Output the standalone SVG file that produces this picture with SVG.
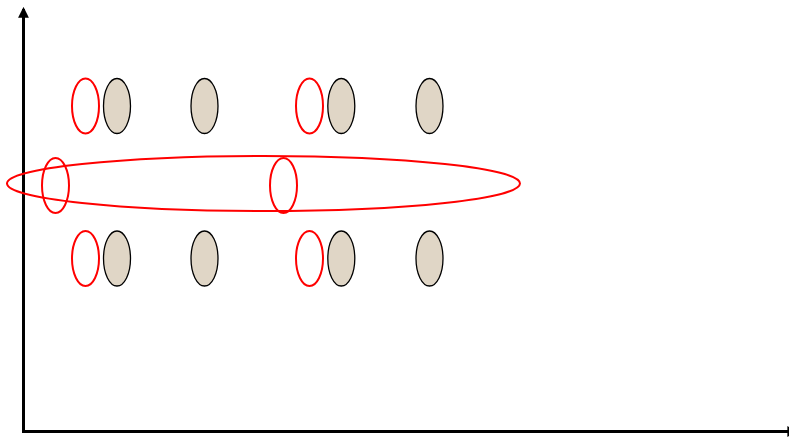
<svg xmlns="http://www.w3.org/2000/svg" width="789" height="437" viewBox="0 0 789 437">
<style>
.axis{stroke:#000;stroke-width:3;fill:none}
.red{fill:none;stroke:#f00;stroke-width:2}
.tan{fill:#e0d6c6;stroke:#000;stroke-width:1.3}
</style>
<defs>
<marker id="ah" viewBox="0 0 10 10" refX="8" refY="5" markerWidth="3.6" markerHeight="3.6" orient="auto" markerUnits="strokeWidth">
<path d="M0,0 L10,5 L0,10 z" fill="#000"/>
</marker>
</defs>
<g id="connectors">
<line class="axis" x1="23.5" y1="432" x2="23.5" y2="9" marker-end="url(#ah)"/>
<line class="axis" x1="22" y1="431.5" x2="796" y2="431.5" marker-end="url(#ah)"/>
</g>
<g id="big-ellipse"><ellipse class="red" cx="263.5" cy="183.5" rx="256.5" ry="27.5"/></g>
<g id="r1a"><ellipse class="red" cx="85.5" cy="106" rx="13.5" ry="27.5"/></g>
<g id="t1a"><ellipse class="tan" cx="117" cy="106" rx="13.5" ry="27.5"/></g>
<g id="t1b"><ellipse class="tan" cx="204.5" cy="106" rx="13.5" ry="27.5"/></g>
<g id="r1b"><ellipse class="red" cx="309.5" cy="106" rx="13.5" ry="27.5"/></g>
<g id="t1c"><ellipse class="tan" cx="341.3" cy="106" rx="13.5" ry="27.5"/></g>
<g id="t1d"><ellipse class="tan" cx="429.5" cy="106" rx="13.5" ry="27.5"/></g>
<g id="r2a"><ellipse class="red" cx="55.5" cy="185.5" rx="13.5" ry="27.5"/></g>
<g id="r2b"><ellipse class="red" cx="283.5" cy="185.5" rx="13.5" ry="27.5"/></g>
<g id="r3a"><ellipse class="red" cx="85.5" cy="258.5" rx="13.5" ry="27.5"/></g>
<g id="t3a"><ellipse class="tan" cx="117" cy="258.5" rx="13.5" ry="27.5"/></g>
<g id="t3b"><ellipse class="tan" cx="204.5" cy="258.5" rx="13.5" ry="27.5"/></g>
<g id="r3b"><ellipse class="red" cx="309.5" cy="258.5" rx="13.5" ry="27.5"/></g>
<g id="t3c"><ellipse class="tan" cx="341.3" cy="258.5" rx="13.5" ry="27.5"/></g>
<g id="t3d"><ellipse class="tan" cx="429.5" cy="258.5" rx="13.5" ry="27.5"/></g>
</svg>
